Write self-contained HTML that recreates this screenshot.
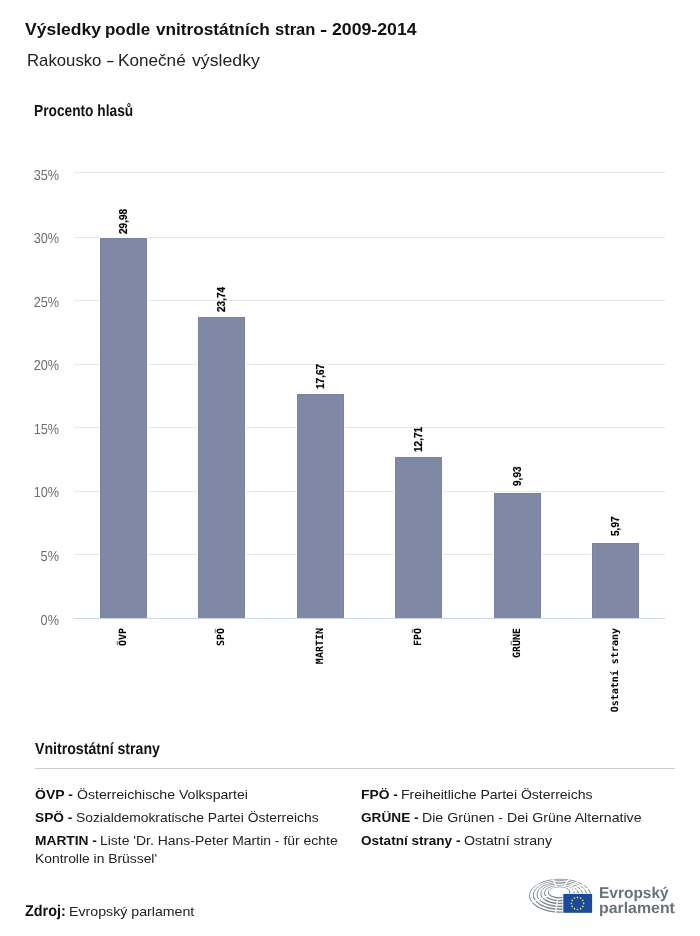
<!DOCTYPE html>
<html lang="cs">
<head>
<meta charset="utf-8">
<title>Výsledky podle vnitrostátních stran - 2009-2014</title>
<style>
html,body{margin:0;padding:0;background:#fff;}
body{width:700px;height:936px;position:relative;overflow:hidden;font-family:"Liberation Sans",sans-serif;color:#1a1a1a;}
.ln{position:absolute;left:0;top:0;width:0;height:0;}
.t{position:absolute;white-space:nowrap;line-height:1;transform-origin:0 0;font-weight:normal;}
b.t{font-weight:bold;}
.ytick{position:absolute;text-rendering:geometricPrecision;right:641px;font-size:14.5px;color:#6e6e6e;line-height:1;white-space:nowrap;transform-origin:100% 0;transform:scaleX(0.875);}
.grid{position:absolute;left:74px;width:591px;height:1px;background:#e6e6e6;}
.bar{position:absolute;width:47px;background:#7f88a5;box-sizing:border-box;border:1px solid #7983a4;border-bottom:0;box-shadow:0 0 0 1px #fff;}
.xl{position:absolute;text-rendering:geometricPrecision;font-family:"DejaVu Sans Mono","Liberation Mono",monospace;font-weight:bold;font-size:10px;line-height:10px;white-space:nowrap;color:#000;transform-origin:0 0;transform:rotate(-90deg) translateX(-100%);}
.vl{position:absolute;font-family:"Liberation Sans",sans-serif;font-weight:bold;font-size:11.5px;line-height:12px;white-space:nowrap;color:#000;transform-origin:0 0;transform:rotate(-90deg) scaleX(0.875);-webkit-text-stroke:0.2px #000;}
#legline{position:absolute;left:35px;top:768px;width:640px;height:1px;background:#ccc;}
#axis{position:absolute;left:74px;top:618px;width:591px;height:1px;background:#ccd6eb;}
</style>
</head>
<body>

<div class="ln" id="title"><b class="t" style="left:25.20px;top:22.46px;font-size:16px;transform:scale(1.0952,1.0);color:#111">Výsledky</b> <b class="t" style="left:105.24px;top:22.46px;font-size:16px;transform:scale(1.0583,1.0);color:#111">podle</b> <b class="t" style="left:156.10px;top:22.46px;font-size:16px;transform:scale(1.0751,1.0);color:#111">vnitrostátních</b> <b class="t" style="left:274.80px;top:22.46px;font-size:16px;transform:scale(1.0326,1.0);color:#111">stran</b> <b class="t" style="left:319.50px;top:22.46px;font-size:16px;transform:scale(1.3600,1.0);color:#111">-</b> <b class="t" style="left:332.20px;top:22.46px;font-size:16px;transform:scale(1.1055,1.0);color:#111">2009-2014</b></div>
<div class="ln" id="subtitle"><span class="t" style="left:27.02px;top:51.61px;font-size:17px;transform:scale(0.9846,1.0);color:#222">Rakousko</span> <span class="t" style="left:106.40px;top:51.61px;font-size:17px;transform:scale(1.5200,1.0);color:#222">-</span> <span class="t" style="left:118.39px;top:51.61px;font-size:17px;transform:scale(1.0083,1.0);color:#222">Konečné</span> <span class="t" style="left:191.60px;top:51.61px;font-size:17px;transform:scale(1.0413,1.0);color:#222">výsledky</span></div>
<div class="ln" id="ylab"><b class="t" style="left:34.15px;top:102.67px;font-size:16.1px;transform:scale(0.8530,1.0);color:#111;text-rendering:geometricPrecision">Procento hlasů</b></div>
<div class="grid" style="top:172px"></div>
<div class="grid" style="top:237px"></div>
<div class="grid" style="top:300px"></div>
<div class="grid" style="top:364px"></div>
<div class="grid" style="top:427px"></div>
<div class="grid" style="top:491px"></div>
<div class="grid" style="top:554px"></div>
<div class="ytick" style="top:168.73px">35%</div>
<div class="ytick" style="top:231.73px">30%</div>
<div class="ytick" style="top:295.73px">25%</div>
<div class="ytick" style="top:358.73px">20%</div>
<div class="ytick" style="top:422.73px">15%</div>
<div class="ytick" style="top:485.73px">10%</div>
<div class="ytick" style="top:549.73px">5%</div>
<div class="ytick" style="top:613.73px">0%</div>
<div class="bar" style="left:100px;top:238px;height:380px"></div>
<div class="bar" style="left:198px;top:317px;height:301px"></div>
<div class="bar" style="left:297px;top:394px;height:224px"></div>
<div class="bar" style="left:395px;top:457px;height:161px"></div>
<div class="bar" style="left:494px;top:493px;height:125px"></div>
<div class="bar" style="left:592px;top:543px;height:75px"></div>
<div id="axis"></div>
<div class="vl" style="left:117.22px;top:233.90px">29,98</div>
<div class="vl" style="left:215.22px;top:311.70px">23,74</div>
<div class="vl" style="left:314.22px;top:389.30px">17,67</div>
<div class="vl" style="left:412.22px;top:452.30px">12,71</div>
<div class="vl" style="left:511.22px;top:485.80px">9,93</div>
<div class="vl" style="left:609.22px;top:535.80px">5,97</div>
<div class="xl" style="left:118.84px;top:628px">ÖVP</div>
<div class="xl" style="left:216.84px;top:628px">SPÖ</div>
<div class="xl" style="left:315.84px;top:628px">MARTIN</div>
<div class="xl" style="left:413.84px;top:628px">FPÖ</div>
<div class="xl" style="left:512.84px;top:628px">GRÜNE</div>
<div class="xl" style="left:610.84px;top:628px">Ostatní strany</div>
<div id="legline"></div>
<div class="ln" id="legtitle"><b class="t" style="left:35.00px;top:740.67px;font-size:16.1px;transform:scale(0.8788,1.0);color:#111;text-rendering:geometricPrecision">Vnitrostátní strany</b></div>
<div class="ln" id="leg-ovp"><b class="t" style="left:35.20px;top:788.00px;font-size:13px;transform:scale(1.0780,1.0);color:#111">ÖVP -</b> <span class="t" style="left:76.50px;top:788.00px;font-size:13px;transform:scale(1.0855,1.0);color:#222">Österreichische Volkspartei</span></div>
<div class="ln" id="leg-spo"><b class="t" style="left:35.00px;top:811.00px;font-size:13px;transform:scale(1.0552,1.0);color:#111">SPÖ -</b> <span class="t" style="left:75.70px;top:811.00px;font-size:13px;transform:scale(1.0658,1.0);color:#222">Sozialdemokratische Partei Österreichs</span></div>
<div class="ln" id="leg-martin"><b class="t" style="left:35.00px;top:834.00px;font-size:13px;transform:scale(1.0592,1.0);color:#111">MARTIN -</b> <span class="t" style="left:99.53px;top:834.00px;font-size:13px;transform:scale(1.0737,1.0);color:#222">Liste 'Dr. Hans-Peter Martin - für echte</span> <span class="t" style="left:34.83px;top:852.00px;font-size:13px;transform:scale(1.0664,1.0);color:#222">Kontrolle in Brüssel'</span></div>
<div class="ln" id="leg-fpo"><b class="t" style="left:361.10px;top:788.00px;font-size:13px;transform:scale(1.0630,1.0);color:#111">FPÖ -</b> <span class="t" style="left:400.92px;top:788.00px;font-size:13px;transform:scale(1.0777,1.0);color:#222">Freiheitliche Partei Österreichs</span></div>
<div class="ln" id="leg-grune"><b class="t" style="left:361.30px;top:811.00px;font-size:13px;transform:scale(1.0502,1.0);color:#111">GRÜNE -</b> <span class="t" style="left:421.91px;top:811.00px;font-size:13px;transform:scale(1.0891,1.0);color:#222">Die Grünen - Dei Grüne Alternative</span></div>
<div class="ln" id="leg-ost"><b class="t" style="left:361.30px;top:834.00px;font-size:13px;transform:scale(1.0429,1.0);color:#111">Ostatní strany -</b> <span class="t" style="left:464.00px;top:834.00px;font-size:13px;transform:scale(1.0870,1.0);color:#222">Ostatní strany</span></div>
<div class="ln" id="source"><b class="t" style="left:24.80px;top:904.09px;font-size:15.6px;transform:scale(0.9214,1.0);color:#111;text-rendering:geometricPrecision">Zdroj:</b> <span class="t" style="left:68.72px;top:904.83px;font-size:13.2px;transform:scale(1.0753,1.0);color:#222">Evropský parlament</span></div>
<div class="ln" id="logotext"><b class="t" style="left:599.30px;top:886.18px;font-size:15.5px;transform:scale(0.9976,1.0);color:#67727b;text-rendering:geometricPrecision">Evropský</b> <b class="t" style="left:599.28px;top:901.08px;font-size:15.5px;transform:scale(1.0244,1.0);color:#67727b;text-rendering:geometricPrecision">parlament</b></div>
<svg style="position:absolute;left:524px;top:872px" width="80" height="50" viewBox="524 872 80 50">
<g fill="#7d868d" fill-rule="evenodd" stroke="none">
<path d="M529.00 895.80A31.20 17.05 0 1 0 591.40 895.80A31.20 17.05 0 1 0 529.00 895.80ZM529.95 895.45A30.15 16.00 0 1 0 590.25 895.45A30.15 16.00 0 1 0 529.95 895.45Z"/>
<path d="M532.78 895.14A27.22 14.85 0 1 0 587.22 895.14A27.22 14.85 0 1 0 532.78 895.14ZM533.73 894.79A26.17 13.80 0 1 0 586.07 894.79A26.17 13.80 0 1 0 533.73 894.79Z"/>
<path d="M536.56 894.48A23.24 12.65 0 1 0 583.04 894.48A23.24 12.65 0 1 0 536.56 894.48ZM537.51 894.13A22.19 11.60 0 1 0 581.89 894.13A22.19 11.60 0 1 0 537.51 894.13Z"/>
<path d="M540.34 893.82A19.26 10.45 0 1 0 578.86 893.82A19.26 10.45 0 1 0 540.34 893.82ZM541.29 893.47A18.21 9.40 0 1 0 577.71 893.47A18.21 9.40 0 1 0 541.29 893.47Z"/>
<path d="M544.12 893.16A15.28 8.25 0 1 0 574.68 893.16A15.28 8.25 0 1 0 544.12 893.16ZM545.07 892.81A14.23 7.20 0 1 0 573.53 892.81A14.23 7.20 0 1 0 545.07 892.81Z"/>
<path d="M547.90 892.50A11.30 6.05 0 1 0 570.50 892.50A11.30 6.05 0 1 0 547.90 892.50ZM548.85 892.15A10.25 5.00 0 1 0 569.35 892.15A10.25 5.00 0 1 0 548.85 892.15Z"/>
</g>
<g stroke="#fff" stroke-width="1.25">
<line x1="556.07" y1="886.22" x2="548.33" y2="867.39"/>
<line x1="563.93" y1="886.52" x2="575.61" y2="868.57"/>
<line x1="567.76" y1="887.90" x2="588.90" y2="874.12"/>
<line x1="569.88" y1="889.45" x2="596.28" y2="880.29"/>
<line x1="571.00" y1="891.06" x2="600.16" y2="886.74"/>
<line x1="548.74" y1="895.77" x2="522.90" y2="905.58"/>
<line x1="557.83" y1="898.96" x2="554.45" y2="918.33"/>
</g>
<rect x="562.7" y="893.3" width="29.8" height="20" fill="#fff"/>
<rect x="563.3" y="893.9" width="28.8" height="18.9" fill="#184ba0"/>
<circle cx="577.50" cy="897.30" r="0.85" fill="#f0d53c"/>
<circle cx="580.55" cy="898.12" r="0.85" fill="#f0d53c"/>
<circle cx="582.78" cy="900.35" r="0.85" fill="#f0d53c"/>
<circle cx="583.60" cy="903.40" r="0.85" fill="#f0d53c"/>
<circle cx="582.78" cy="906.45" r="0.85" fill="#f0d53c"/>
<circle cx="580.55" cy="908.68" r="0.85" fill="#f0d53c"/>
<circle cx="577.50" cy="909.50" r="0.85" fill="#f0d53c"/>
<circle cx="574.45" cy="908.68" r="0.85" fill="#f0d53c"/>
<circle cx="572.22" cy="906.45" r="0.85" fill="#f0d53c"/>
<circle cx="571.40" cy="903.40" r="0.85" fill="#f0d53c"/>
<circle cx="572.22" cy="900.35" r="0.85" fill="#f0d53c"/>
<circle cx="574.45" cy="898.12" r="0.85" fill="#f0d53c"/>
</svg>
</body>
</html>
